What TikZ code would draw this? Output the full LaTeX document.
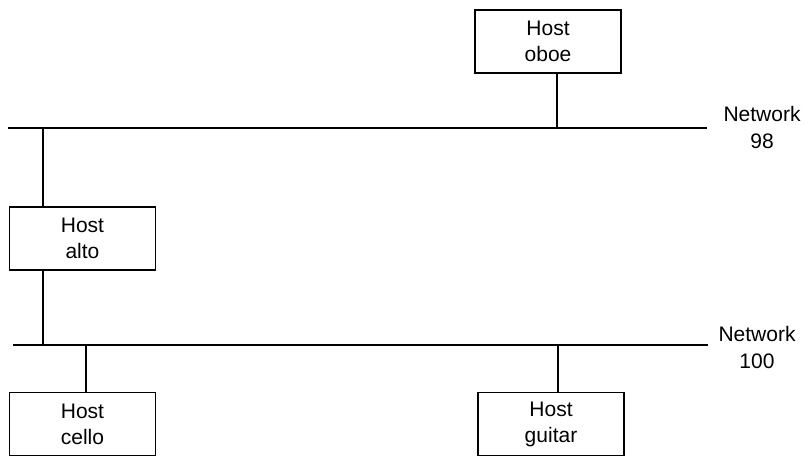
\documentclass[tikz,border=0pt]{standalone}
\usepackage{fontspec}
\setmainfont{Liberation Sans}
\usetikzlibrary{positioning}
\tikzset{host/.style={draw=black, line width=1.2pt, minimum width=146pt, minimum height=63pt, inner sep=0pt, align=center, font=\fontsize{21}{26}\selectfont},
  net/.style={draw=black, line width=1.2pt},
  netlabel/.style={align=center, font=\fontsize{21}{27}\selectfont}}
\begin{document}
\begin{tikzpicture}[x=1pt,y=-1pt]
  \useasboundingbox (0,0) rectangle (808,456);
  % hosts
  \node[host] (oboe) at (548,41.5) {Host\\oboe};
  \node[host] (alto) at (82.5,238.5) {Host\\alto};
  \node[host] (cello) at (82.5,424) {Host\\cello};
  \node[host] (guitar) at (551,424) {Host\\guitar};
  % networks
  \coordinate (n98w) at (8,128);
  \coordinate (n98e) at (707,128);
  \coordinate (n100w) at (13,345);
  \coordinate (n100e) at (708,345);
  \node[netlabel] (n98) at (762,127) {Network\\98};
  \node[netlabel] (n100) at (757,347) {Network\\100};

  \path[net] (n98w) edge (n98e);
  \path[net] (n100w) edge (n100e);
  \coordinate (oboetap) at ([xshift=9pt]oboe.south);
  \path[net] (oboetap) edge (oboetap |- n98w);
  \coordinate (altotop) at ([xshift=-39.5pt]alto.north);
  \coordinate (altobot) at ([xshift=-39.5pt]alto.south);
  \path[net] (altotop) edge (altotop |- n98w);
  \path[net] (altobot) edge (altobot |- n100w);
  \coordinate (cellotap) at ([xshift=3.5pt]cello.north);
  \path[net] (cellotap) edge (cellotap |- n100w);
  \coordinate (guitartap) at ([xshift=7pt]guitar.north);
  \path[net] (guitartap) edge (guitartap |- n100w);
\end{tikzpicture}
\end{document}
